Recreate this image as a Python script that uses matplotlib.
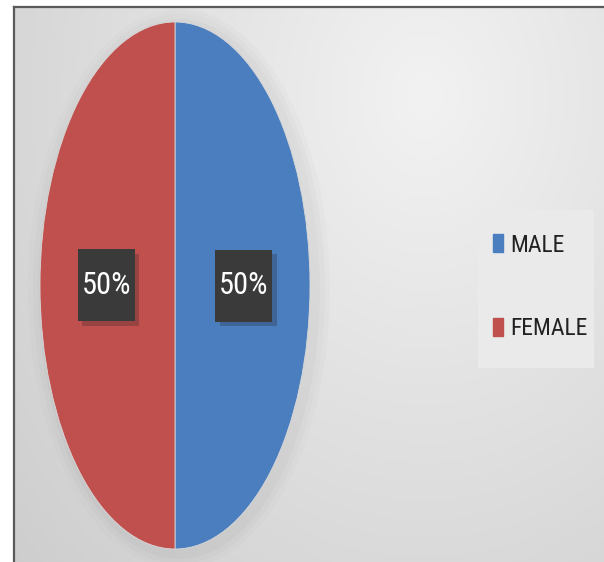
import numpy as np
import matplotlib
matplotlib.use("Agg")
from matplotlib import pyplot as plt
from matplotlib import font_manager
import matplotlib.patches as mpatches

labels = ["MALE", "FEMALE"]
shares = [50, 50]
colors = ["#4a7ebf", "#c0504d"]


def pick_font():
    # a narrow face if one is there, else plain DejaVu at a smaller size
    for name, scale in [("Roboto Condensed", 1.0), ("Liberation Sans Narrow", 1.0),
                        ("DejaVu Sans Condensed", 0.85)]:
        try:
            font_manager.findfont(font_manager.FontProperties(family=name),
                                  fallback_to_default=False)
            return [name, "DejaVu Sans"], scale
        except ValueError:
            pass
    return ["DejaVu Sans"], 0.68


def draw_background(fig):
    ax = fig.add_axes([0, 0, 1, 1])
    ax.set_xlim(0, 604)
    ax.set_ylim(562, 0)
    ax.axis("off")
    # soft grey gradient, lightest near the upper middle
    yy, xx = np.mgrid[0:562, 0:604]
    d = np.sqrt(((xx - 420) / 430.0) ** 2 + ((yy - 90) / 540.0) ** 2)
    g = np.clip(0.95 - 0.11 * d, 0.80, 0.955)
    ax.imshow(np.dstack([g, g, g]), extent=(14, 604, 562, 7), aspect="auto", zorder=0)
    ax.plot([13.5, 604], [6.5, 6.5], color="#5a5a5a", lw=1.6, zorder=2)
    ax.plot([13.5, 13.5], [6.5, 562], color="#5a5a5a", lw=1.6, zorder=2)
    # faint shadow round the pie
    for i, a in enumerate([0.05, 0.04, 0.03]):
        e = mpatches.Ellipse((179, 289), 272 + 10 * (i + 1), 530 + 10 * (i + 1),
                             facecolor="#808080", edgecolor="none", alpha=a, zorder=1)
        ax.add_patch(e)
    # legend panel
    ax.add_patch(mpatches.Rectangle((478, 210), 116, 158, facecolor="#eaeaea",
                                    edgecolor="none", zorder=2))
    return ax


def main():
    family, scale = pick_font()
    fig = plt.figure(figsize=(6.04, 5.62), dpi=100)
    fig.patch.set_facecolor("white")
    draw_background(fig)

    ax = fig.add_axes([40 / 604, 13 / 562, 270 / 604, 527 / 562])
    wedges, texts, autotexts = ax.pie(
        shares, colors=colors, startangle=90, counterclock=False,
        autopct="%1.0f%%", pctdistance=0.51,
        wedgeprops=dict(edgecolor="#d8d8d8", linewidth=0.6),
        textprops=dict(color="white", fontsize=22 * scale, family=family))
    ax.set_aspect("auto")
    ax.set_xlim(-1, 1)
    ax.set_ylim(-1, 1)

    # dark label boxes behind the percentages
    bw, bh = 57 / 135.0, 72 / 263.5
    for t in autotexts:
        x, y = t.get_position()
        sh = mpatches.Rectangle((x - bw / 2 + 0.035, y - bh / 2 - 0.018), bw, bh,
                                facecolor="#1e1e1e", alpha=0.25, edgecolor="none", zorder=3)
        box = mpatches.Rectangle((x - bw / 2, y - bh / 2), bw, bh,
                                 facecolor="#3a3a3a", edgecolor="none", zorder=4)
        ax.add_patch(sh)
        ax.add_patch(box)
        t.set_zorder(5)
        t.set_va("center")
        t.set_ha("center")

    handles = [mpatches.Patch(color=c, label=l) for c, l in zip(colors, labels)]
    leg = fig.legend(handles=handles, loc="upper left",
                     bbox_to_anchor=(476 / 604, 1 - 217 / 562),
                     frameon=False, handlelength=0.45, handleheight=0.8,
                     handletextpad=0.3, labelspacing=2.56, borderpad=0.2,
                     prop=dict(family=family, size=17 * scale))
    for t in leg.get_texts():
        t.set_color("#222222")

    fig.savefig("out.png", dpi=100)


if __name__ == '__main__':
    main()
